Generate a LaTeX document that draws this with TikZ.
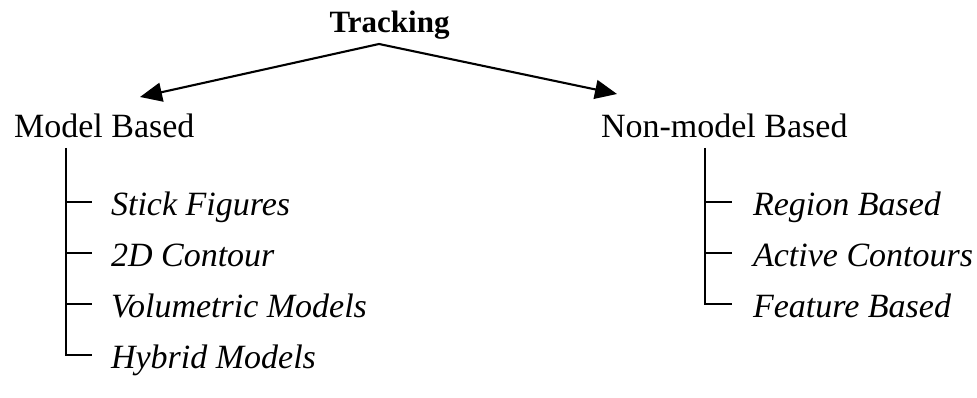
\documentclass[tikz,border=0pt]{standalone}
\usepackage{fontspec}
\setmainfont{Liberation Serif}
\usetikzlibrary{arrows.meta}

\begin{document}
\begin{tikzpicture}[x=1pt, y=1pt, line width=2.1pt,
  head/.style={inner sep=0pt, anchor=base, font=\fontsize{31}{36}\selectfont\bfseries},
  cat/.style={inner sep=0pt, anchor=base west, font=\fontsize{34}{40}\selectfont},
  leaf/.style={inner sep=0pt, anchor=base west, font=\fontsize{34}{40}\selectfont\itshape},
  branch/.style={-{Triangle[length=22pt, width=19pt]}},
  tree/.style={line cap=butt}]

  \useasboundingbox (0,0) rectangle (977,398);

  % root and the two branches
  \node[head] (root) at (389.5,365) {Tracking};
  \coordinate (apex) at (379,354);
  \coordinate (tipL) at (140,301);
  \coordinate (tipR) at (617,304);
  \draw[branch] (apex) -- (tipL);
  \draw[branch] (apex) -- (tipR);

  \node[cat] (mb)  at (13,260)  {Model Based};
  \node[cat] (nmb) at (600,260) {Non-model Based};

  % model based sub-tree
  \coordinate (trunkL) at (66,250);
  \coordinate (L1) at (92,196);
  \coordinate (L2) at (92,145);
  \coordinate (L3) at (92,94);
  \coordinate (L4) at (92,43);
  \node[leaf] (stick) at ([shift={(18,-14)}]L1) {Stick Figures};
  \node[leaf] (cont)  at ([shift={(18,-14)}]L2) {2D Contour};
  \node[leaf] (vol)   at ([shift={(18,-14)}]L3) {Volumetric Models};
  \node[leaf] (hyb)   at ([shift={(18,-14)}]L4) {Hybrid Models};
  \draw[tree] (trunkL) |- (L4);
  \draw[tree] (trunkL |- L1) -- (L1);
  \draw[tree] (trunkL |- L2) -- (L2);
  \draw[tree] (trunkL |- L3) -- (L3);

  % non-model based sub-tree
  \coordinate (trunkR) at (705,250);
  \coordinate (R1) at (732,196);
  \coordinate (R2) at (732,145);
  \coordinate (R3) at (732,94);
  \node[leaf] (reg)  at ([shift={(20,-14)}]R1) {Region Based};
  \node[leaf] (act)  at ([shift={(20,-14)}]R2) {Active Contours};
  \node[leaf] (feat) at ([shift={(20,-14)}]R3) {Feature Based};
  \draw[tree] (trunkR) |- (R3);
  \draw[tree] (trunkR |- R1) -- (R1);
  \draw[tree] (trunkR |- R2) -- (R2);
\end{tikzpicture}
\end{document}
